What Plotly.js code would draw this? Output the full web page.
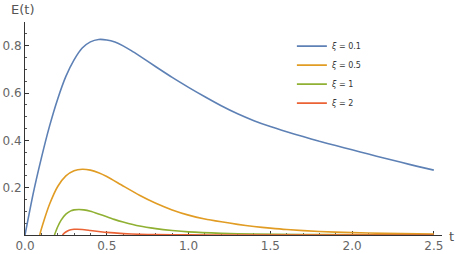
<!DOCTYPE html>
<html>
<head>
<meta charset="utf-8">
<script src="https://cdn.plot.ly/plotly-3.0.1.min.js"></script>
<style>html,body{margin:0;padding:0;background:#fff;}#chart{width:456px;height:254px;}</style>
</head>
<body>
<div id="chart"></div>
<script>
// xi = 0.1
const tBlue = [0, 0.05, 0.1, 0.15, 0.2, 0.25, 0.3, 0.35, 0.4, 0.45, 0.5, 0.55, 0.6, 0.65, 0.7, 0.8, 0.9, 1.0, 1.1, 1.2, 1.3, 1.4, 1.5, 1.6, 1.7, 1.8, 1.9, 2.0, 2.1, 2.2, 2.3, 2.4, 2.5];
const eBlue = [0, 0.175, 0.325, 0.46, 0.575, 0.67, 0.74, 0.79, 0.816, 0.826, 0.824, 0.815, 0.799, 0.779, 0.757, 0.711, 0.666, 0.624, 0.584, 0.546, 0.512, 0.483, 0.458, 0.436, 0.416, 0.396, 0.378, 0.360, 0.342, 0.324, 0.307, 0.290, 0.274];
// xi = 0.5
const tOrange = [0.09, 0.1, 0.12, 0.15, 0.2, 0.25, 0.3, 0.35, 0.4, 0.45, 0.5, 0.6, 0.7, 0.8, 0.9, 1.0, 1.1, 1.2, 1.3, 1.4, 1.5, 1.6, 1.8, 2.0, 2.2, 2.5];
const eOrange = [0, 0.025, 0.07, 0.13, 0.205, 0.25, 0.272, 0.278, 0.274, 0.263, 0.247, 0.207, 0.168, 0.134, 0.106, 0.084, 0.068, 0.056, 0.045, 0.036, 0.029, 0.023, 0.015, 0.010, 0.007, 0.004];
// xi = 1
const tGreen = [0.18, 0.2, 0.22, 0.25, 0.28, 0.3, 0.33, 0.36, 0.4, 0.45, 0.5, 0.55, 0.6, 0.7, 0.8, 0.9, 1.0, 1.2, 1.4, 1.7, 2.0, 2.5];
const eGreen = [0, 0.035, 0.062, 0.088, 0.102, 0.106, 0.108, 0.106, 0.1, 0.089, 0.077, 0.065, 0.055, 0.038, 0.027, 0.019, 0.013, 0.007, 0.004, 0.002, 0.001, 0.0005];
// xi = 2
const tRed = [0.229, 0.24, 0.26, 0.28, 0.3, 0.32, 0.35, 0.4, 0.45, 0.5, 0.6, 0.7, 0.8, 1.0, 1.3, 1.7, 2.5];
const eRed = [0, 0.008, 0.017, 0.022, 0.024, 0.024, 0.023, 0.019, 0.015, 0.011, 0.006, 0.003, 0.0015, 0.0005, 0.0002, 0.0001, 0];

const seriesNames = ['<i>ξ</i> = 0.1', '<i>ξ</i> = 0.5', '<i>ξ</i> = 1', '<i>ξ</i> = 2'];
const seriesColors = ['#5E81B5', '#E19C24', '#8FB032', '#EB6235'];
const xTickVals = [0, 0.5, 1, 1.5, 2, 2.5];
const xTickText = ['0.0', '0.5', '1.0', '1.5', '2.0', '2.5'];
const yTickVals = [0.2, 0.4, 0.6, 0.8];
const yTickText = ['0.2', '0.4', '0.6', '0.8'];

const xs = [tBlue, tOrange, tGreen, tRed];
const ys = [eBlue, eOrange, eGreen, eRed];

const traces = xs.map((x, i) => ({
  x: x, y: ys[i], type: 'scatter', mode: 'lines',
  name: seriesNames[i],
  line: {color: seriesColors[i], width: 1.6, shape: 'spline', smoothing: 0.6}
}));

const font = 'DejaVu Sans, Liberation Sans, sans-serif';
const layout = {
  width: 456, height: 254,
  margin: {l: 25, r: 14, t: 22, b: 19, pad: 0},
  paper_bgcolor: '#fff', plot_bgcolor: '#fff',
  font: {family: font, size: 12, color: '#555'},
  showlegend: true,
  legend: {
    x: 0.64, y: 0.955, xanchor: 'left', yanchor: 'top',
    font: {family: font, size: 8, color: '#333'},
    bgcolor: 'rgba(0,0,0,0)', borderwidth: 0
  },
  xaxis: {
    range: [0, 2.55], showgrid: false, zeroline: false,
    showline: true, linecolor: '#333', linewidth: 1, layer: 'below traces',
    tickmode: 'array', tickvals: xTickVals, ticktext: xTickText,
    ticks: 'inside', ticklen: 4, tickcolor: '#333', tickwidth: 1,
    tickfont: {family: font, size: 12, color: '#666'},
    minor: {tickmode: 'linear', tick0: 0, dtick: 0.1, ticks: 'inside', ticklen: 2, tickcolor: '#555', tickwidth: 1, showgrid: false},
    fixedrange: true
  },
  yaxis: {
    range: [0, 0.9], showgrid: false, zeroline: false,
    showline: true, linecolor: '#333', linewidth: 1, layer: 'below traces',
    tickmode: 'array', tickvals: yTickVals, ticktext: yTickText,
    ticks: 'inside', ticklen: 4, tickcolor: '#333', tickwidth: 1,
    tickfont: {family: font, size: 12, color: '#666'},
    minor: {tickmode: 'linear', tick0: 0, dtick: 0.05, ticks: 'inside', ticklen: 2, tickcolor: '#555', tickwidth: 1, showgrid: false},
    fixedrange: true
  },
  annotations: [
    {text: 'E(t)', xref: 'paper', yref: 'paper', x: -0.005, y: 1.06, xanchor: 'center', yanchor: 'middle', showarrow: false, font: {family: font, size: 13, color: '#555'}},
    {text: 't', xref: 'paper', yref: 'paper', x: 1.022, y: -0.005, xanchor: 'center', yanchor: 'middle', showarrow: false, font: {family: font, size: 13, color: '#555'}}
  ]
};

Plotly.newPlot('chart', traces, layout, {displayModeBar: false, staticPlot: true});
</script>
</body>
</html>
